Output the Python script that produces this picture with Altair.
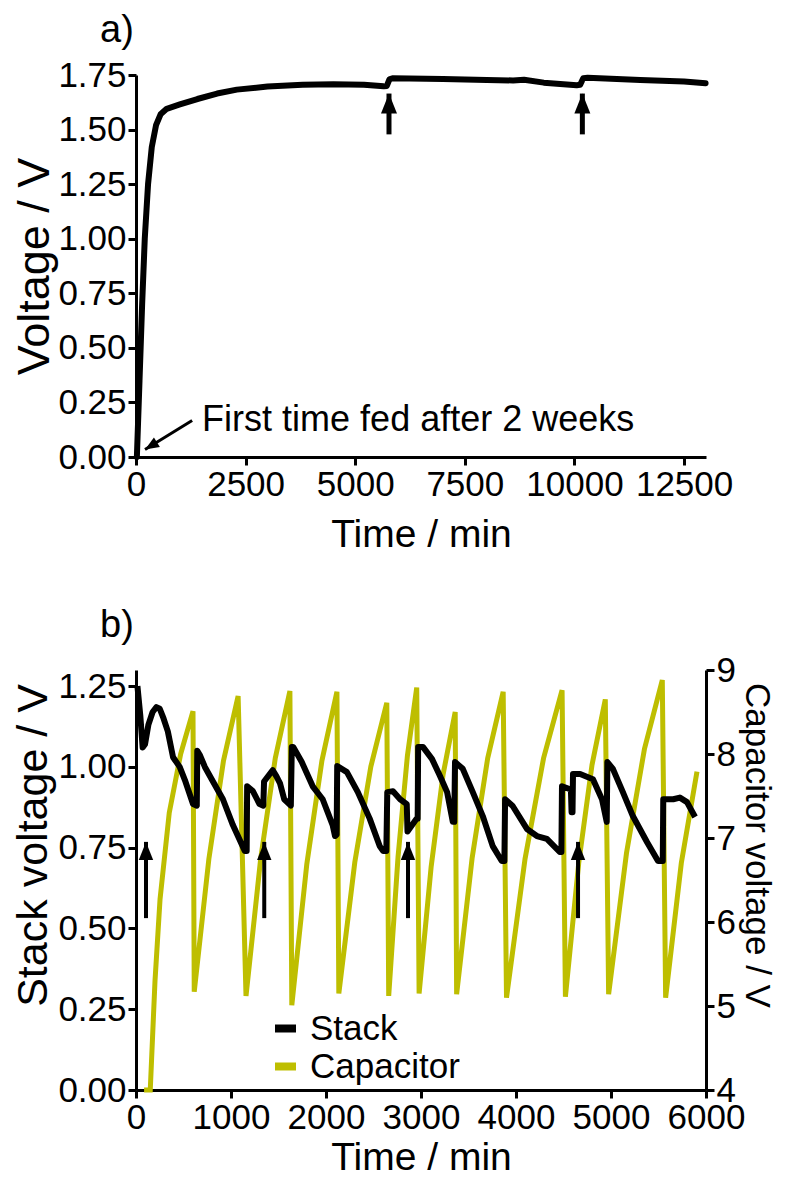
import altair as alt
import pandas as pd

FONT = "Liberation Sans"
YELLOW = "#bebe00"
HEAD = "M0,0L-0.8,2L0.8,2Z"

# ---------------- Panel a ----------------
a_time = [20, 80, 140, 200, 275, 360, 457, 560, 700, 1000, 1400, 1850, 2300,
          3000, 3800, 4500, 5200, 5650, 5720, 5780, 5850, 7000, 8000, 8600,
          8850, 9300, 10050, 10130, 10200, 10300, 11500, 12500, 12990]
a_volt = [0.0, 0.35, 0.70, 1.00, 1.25, 1.42, 1.52, 1.57, 1.595, 1.615, 1.64,
          1.665, 1.683, 1.697, 1.705, 1.708, 1.705, 1.698, 1.700, 1.730, 1.735,
          1.732, 1.727, 1.725, 1.728, 1.715, 1.703, 1.705, 1.735, 1.737, 1.727,
          1.720, 1.712]
a_arrow_time = [5770, 10180]
a_arrow_tip = [1.665, 1.665]
a_arrow_base = [1.478, 1.478]
a_ticks_x = [0, 2500, 5000, 7500, 10000, 12500]
a_ticks_y = [0.0, 0.25, 0.5, 0.75, 1.0, 1.25, 1.5, 1.75]
note_text = ["First time fed after 2 weeks"]
note_pos = [1508, 0.12]
note_arrow_start = [1280, 0.167]
note_arrow_tip = [206, 0.034]

# ---------------- Panel b ----------------
stack_t = [15, 45, 70, 95, 130, 175, 215, 250, 290, 335, 390, 460, 520, 560, 600,
           640, 645, 675, 725, 810, 915, 1020, 1145, 1165, 1170, 1230, 1300, 1340,
           1348, 1400, 1440, 1480, 1515, 1560, 1630, 1640, 1655, 1745, 1860, 1965,
           2070, 2095, 2112, 2118, 2220, 2335, 2460, 2565, 2600, 2635, 2645, 2705,
           2780, 2850, 2858, 2955, 2965, 2970, 3020, 3115, 3200, 3275, 3335, 3350,
           3358, 3440, 3545, 3650, 3755, 3850, 3878, 3885, 3965, 4115, 4220, 4325,
           4460, 4478, 4484, 4578, 4585, 4595, 4600, 4675, 4810, 4905, 4955, 4962,
           5020, 5125, 5230, 5380, 5495, 5545, 5550, 5655, 5725, 5800, 5885]
stack_v = [1.25, 1.16, 1.06, 1.07, 1.13, 1.17, 1.185, 1.18, 1.15, 1.11, 1.03, 1.0,
           0.955, 0.92, 0.885, 0.88, 1.05, 1.035, 1.0, 0.955, 0.90, 0.82, 0.74,
           0.74, 0.94, 0.925, 0.885, 0.88, 0.955, 0.975, 0.99, 0.97, 0.95, 0.90,
           0.88, 1.062, 1.062, 1.015, 0.94, 0.90, 0.82, 0.786, 0.79, 1.003, 0.984,
           0.922, 0.84, 0.755, 0.74, 0.74, 0.922, 0.925, 0.90, 0.885, 0.80, 0.84,
           0.84, 1.062, 1.062, 1.025, 0.972, 0.922, 0.83, 0.83, 1.015, 0.994,
           0.922, 0.848, 0.755, 0.709, 0.709, 0.90, 0.879, 0.808, 0.786, 0.777,
           0.737, 0.737, 0.94, 0.93, 0.86, 0.86, 0.978, 0.978, 0.962, 0.90, 0.83,
           1.015, 0.994, 0.922, 0.848, 0.767, 0.709, 0.709, 0.90, 0.90, 0.905,
           0.891, 0.845]
cap_t = [85, 150, 200, 253, 350, 470, 600, 613, 767, 921, 1075, 1158, 1312, 1466,
         1620, 1640, 1798, 1957, 2115, 2135, 2303, 2472, 2640, 2660, 2758, 2857,
         2955, 2980, 3107, 3233, 3360, 3375, 3538, 3702, 3865, 3900, 4095, 4290,
         4485, 4520, 4660, 4800, 4940, 4975, 5163, 5352, 5540, 5575, 5740, 5905]
cap_v = [4.0, 4.0, 5.3, 6.27, 7.3, 8.0, 8.51, 5.17, 6.75, 7.92, 8.69, 5.12, 6.75,
         7.95, 8.75, 5.01, 6.69, 7.92, 8.74, 5.15, 6.71, 7.85, 8.61, 5.12, 6.77,
         7.98, 8.79, 5.15, 6.66, 7.76, 8.50, 5.14, 6.76, 7.95, 8.74, 5.10, 6.75,
         7.95, 8.76, 5.11, 6.70, 7.87, 8.65, 5.14, 6.82, 8.06, 8.88, 5.10, 6.7,
         7.79]
b_arrow_time = [105, 1350, 2863, 4653]
b_arrow_tip = [0.768, 0.768, 0.768, 0.768]
b_arrow_base = [0.532, 0.532, 0.532, 0.532]
b_ticks_x = [0, 1000, 2000, 3000, 4000, 5000, 6000]
b_ticks_y = [0.0, 0.25, 0.5, 0.75, 1.0, 1.25]
b_ticks_y2 = [4, 5, 6, 7, 8, 9]
series_names = ["Stack", "Capacitor"]
series_colors = ["black", YELLOW]

# ---------------- tables ----------------
dfA = pd.DataFrame({"t": a_time, "v": a_volt})
dfArrA = pd.DataFrame({"t": a_arrow_time, "tip": a_arrow_tip, "base": a_arrow_base})
dfNote = pd.DataFrame({"t": [note_pos[0]], "v": [note_pos[1]], "label": note_text})
dfNoteArr = pd.DataFrame({"t": [note_arrow_start[0]], "v": [note_arrow_start[1]],
                          "t2": [note_arrow_tip[0]], "v2": [note_arrow_tip[1]]})
dfNoteHead = pd.DataFrame({"t": [note_arrow_tip[0]], "v": [note_arrow_tip[1]]})
dfStack = pd.DataFrame({"t": stack_t, "v": stack_v, "series": series_names[0]})
dfCap = pd.DataFrame({"t": cap_t, "v": cap_v, "series": series_names[1]})
dfArrB = pd.DataFrame({"t": b_arrow_time, "tip": b_arrow_tip, "base": b_arrow_base})

W = 570
HA = 382
HB = 420

xA_scale = alt.Scale(domain=[0, 13000], nice=False)
yA_scale = alt.Scale(domain=[0, 1.75], nice=False)
xA_axis = alt.Axis(title="Time / min", values=a_ticks_x, format="d",
                   titleFontSize=39, titlePadding=13)
yA_axis = alt.Axis(title="Voltage / V", values=a_ticks_y, format=".2f",
                   titleFontSize=45, titlePadding=0)

xA = alt.X("t:Q", scale=xA_scale, axis=xA_axis)

lineA = alt.Chart(dfA).mark_line(color="black", strokeWidth=6, strokeJoin="round",
                                 strokeCap="round").encode(
    x=xA, y=alt.Y("v:Q", scale=yA_scale, axis=yA_axis))
shaftA = alt.Chart(dfArrA).mark_rule(color="black", strokeWidth=5).encode(
    x=xA, y=alt.Y("base:Q", scale=yA_scale, axis=yA_axis), y2="tip:Q")
headA = alt.Chart(dfArrA).mark_point(shape=HEAD, size=400, filled=True, color="black",
                                     opacity=1, strokeWidth=0).encode(
    x=xA, y=alt.Y("tip:Q", scale=yA_scale, axis=yA_axis))
noteArr = alt.Chart(dfNoteArr).mark_rule(color="black", strokeWidth=3).encode(
    x=xA, y=alt.Y("v:Q", scale=yA_scale, axis=yA_axis), x2="t2:Q", y2="v2:Q")
noteHead = alt.Chart(dfNoteHead).mark_point(shape=HEAD, size=196, filled=True,
                                            color="black", opacity=1, strokeWidth=0,
                                            angle=238).encode(
    x=xA, y=alt.Y("v:Q", scale=yA_scale, axis=yA_axis))
noteText = alt.Chart(dfNote).mark_text(align="left", baseline="alphabetic",
                                       fontSize=36, font=FONT, color="black").encode(
    x=xA, y=alt.Y("v:Q", scale=yA_scale, axis=yA_axis), text="label:N")

TITLE_KW = dict(anchor="start", frame="group", fontSize=38, font=FONT,
                fontWeight="normal", color="black", dx=-36, offset=8)

panelA = alt.layer(lineA, shaftA, headA, noteArr, noteHead, noteText).properties(
    width=W, height=HA, title=alt.TitleParams("a)", **TITLE_KW))

xB_scale = alt.Scale(domain=[0, 6000], nice=False)
yB_scale = alt.Scale(domain=[0, 1.30], nice=False)
y2B_scale = alt.Scale(domain=[4, 9], nice=False)
xB_axis = alt.Axis(title="Time / min", values=b_ticks_x, format="d",
                   titleFontSize=39, titlePadding=3)
yB_axis = alt.Axis(title="Stack voltage / V", values=b_ticks_y, format=".2f",
                   orient="left", titleFontSize=43, titlePadding=2, titleY=175)
y2B_axis = alt.Axis(title="Capacitor voltage / V", values=b_ticks_y2, format="d",
                    orient="right", titleFontSize=35, titlePadding=3, titleY=175)
xB = alt.X("t:Q", scale=xB_scale, axis=xB_axis)

color_enc = alt.Color("series:N",
                      scale=alt.Scale(domain=series_names, range=series_colors),
                      legend=alt.Legend(title=None))

capLine = alt.Chart(dfCap).mark_line(strokeWidth=5, strokeJoin="miter").encode(
    x=xB, y=alt.Y("v:Q", scale=y2B_scale, axis=y2B_axis), color=color_enc)
stackLine = alt.Chart(dfStack).mark_line(strokeWidth=6, strokeJoin="round").encode(
    x=xB, y=alt.Y("v:Q", scale=yB_scale, axis=yB_axis), color=color_enc)
shaftB = alt.Chart(dfArrB).mark_rule(color="black", strokeWidth=4).encode(
    x=xB, y=alt.Y("base:Q", scale=yB_scale, axis=yB_axis), y2="tip:Q")
headB = alt.Chart(dfArrB).mark_point(shape=HEAD, size=324, filled=True, color="black",
                                     opacity=1, strokeWidth=0).encode(
    x=xB, y=alt.Y("tip:Q", scale=yB_scale, axis=yB_axis))

leftB = alt.layer(stackLine, shaftB, headB)
panelB = alt.layer(capLine, leftB).resolve_scale(y="independent").properties(
    width=W, height=HB, title=alt.TitleParams("b)", **TITLE_KW))

chart = alt.vconcat(panelA, panelB, spacing=53).properties(
    padding={"left": 4, "top": 4, "right": 4, "bottom": 0}
).configure_view(stroke=None).configure_axis(
    grid=False, domainColor="black", domainWidth=3, tickColor="black", tickWidth=3,
    tickSize=8, labelFont=FONT, labelFontSize=35, labelColor="black", labelPadding=2,
    titleFont=FONT, titleColor="black", titleFontWeight="normal",
    labelFlush=False, labelOverlap=False
).configure_legend(
    orient="none", legendX=132, legendY=936, labelFont=FONT, labelFontSize=35,
    labelColor="black", symbolType="stroke", symbolStrokeWidth=8, symbolSize=441,
    rowPadding=2, labelOffset=7
)

chart.save("out.html", embed_options={"renderer": "svg", "actions": False})
